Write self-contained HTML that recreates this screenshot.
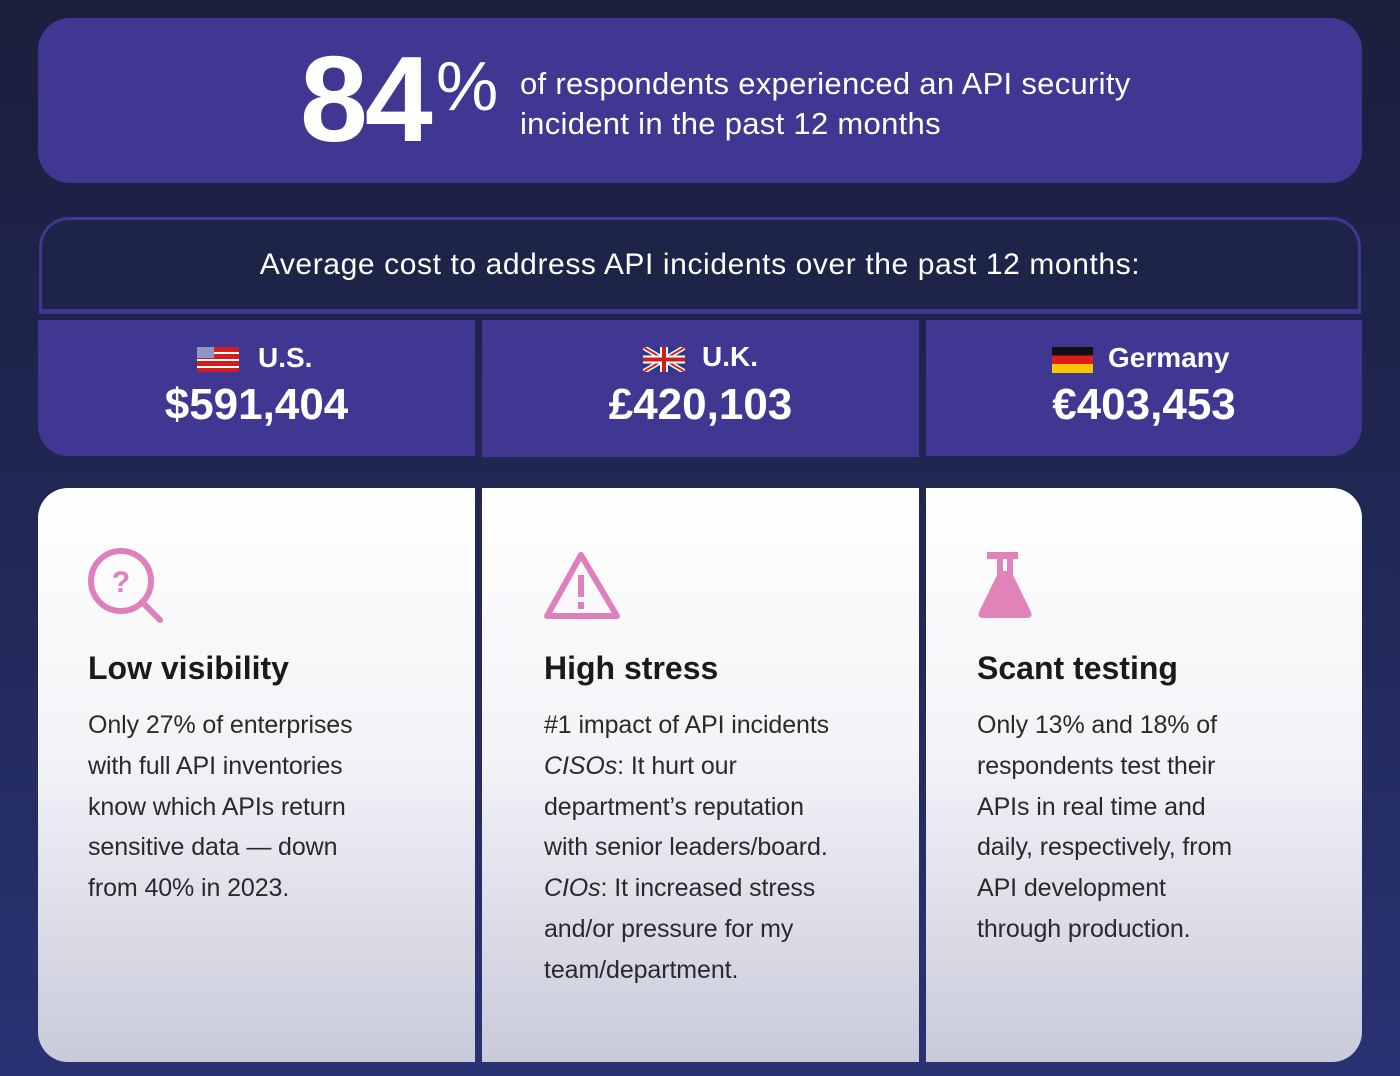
<!DOCTYPE html>
<html><head><meta charset="utf-8"><style>
*{margin:0;padding:0;box-sizing:border-box}
body{width:1400px;height:1076px;overflow:hidden;position:relative;font-family:"Liberation Sans",sans-serif;color:#fff;
background:linear-gradient(180deg,#1a1f3c 0%,#1e2650 40%,#2a3274 100%)}
.a{position:absolute}
.purple{background:#3f3791}
.t{position:absolute;white-space:nowrap}
.card{position:absolute;top:488px;height:574px;background:linear-gradient(180deg,#ffffff 0%,#f4f4f8 45%,#c9cada 100%);color:#222}
.body{position:absolute;font-size:25px;line-height:40.8px;color:#2a2a2a;letter-spacing:-0.1px}
.cn{font-size:28px;font-weight:bold}
.amt{font-size:44px;font-weight:bold;letter-spacing:0px}
</style></head><body>
<div class="a purple" style="left:38px;top:18px;width:1324px;height:165px;border-radius:32px"></div>
<div class="t" style="left:300px;top:34px;font-size:122px;font-weight:bold;letter-spacing:-3px;line-height:130px">84</div>
<div class="t" style="left:436px;top:46px;font-size:70px;line-height:80px">%</div>
<div class="t" style="left:520px;top:64px;font-size:31px;line-height:40px;letter-spacing:0.3px">of respondents experienced an API security<br>incident in the past 12 months</div>

<div class="a" style="left:39px;top:217px;width:1322px;height:97px;border:3px solid #3f3791;border-bottom:5px solid #3f3791;border-radius:30px 30px 0 0;background:#1c2448"></div>
<div class="t" style="left:0;width:1400px;text-align:center;top:247px;font-size:30px;line-height:36px;letter-spacing:0.6px">Average cost to address API incidents over the past 12 months:</div>

<div class="a purple" style="left:38px;top:320px;width:437px;height:136px;border-radius:0 0 0 30px"></div>
<div class="a purple" style="left:482px;top:320px;width:437px;height:137px"></div>
<div class="a purple" style="left:926px;top:320px;width:436px;height:136px;border-radius:0 0 30px 0"></div>

<div class="a" style="left:197px;top:347px;width:42px;height:25px;background:repeating-linear-gradient(180deg,#d21d1d 0 5px,#fff 5px 7px)"></div>
<div class="a" style="left:197px;top:347px;width:17px;height:11px;background:#8e96c8"></div>
<div class="t cn" style="left:258px;top:342px">U.S.</div>
<div class="t amt" style="left:38px;width:437px;text-align:center;top:380px">$591,404</div>
<svg class="a" style="left:643px;top:347px" width="42" height="25" viewBox="0 0 42 25"><rect width="42" height="25" fill="#2a3a8a"/><path d="M0 0L42 25M42 0L0 25" stroke="#fff" stroke-width="5"/><path d="M0 0L42 25M42 0L0 25" stroke="#d21d1d" stroke-width="2"/><path d="M21 0V25M0 12.5H42" stroke="#fff" stroke-width="8"/><path d="M21 0V25M0 12.5H42" stroke="#d21d1d" stroke-width="4"/></svg>
<div class="t cn" style="left:702px;top:341px">U.K.</div>
<div class="t amt" style="left:482px;width:437px;text-align:center;top:380px">£420,103</div>
<div class="a" style="left:1052px;top:347px;width:41px;height:26px;background:linear-gradient(180deg,#111 0 33%,#e01b1b 33% 66%,#f7c800 66%)"></div>
<div class="t cn" style="left:1108px;top:342px">Germany</div>
<div class="t amt" style="left:926px;width:436px;text-align:center;top:380px">€403,453</div>

<div class="card" style="left:38px;width:437px;border-radius:30px 0 0 30px"></div>
<div class="card" style="left:482px;width:437px"></div>
<div class="card" style="left:926px;width:436px;border-radius:0 30px 30px 0"></div>

<svg class="a" style="left:86px;top:546px" width="80" height="80" viewBox="0 0 80 80"><circle cx="35" cy="35" r="30" fill="none" stroke="#e07fbd" stroke-width="6"/><path d="M56 56L74 74" stroke="#e07fbd" stroke-width="6" stroke-linecap="round"/><text x="35" y="46" text-anchor="middle" font-family="Liberation Sans" font-weight="bold" font-size="30" fill="#e07fbd">?</text></svg>
<svg class="a" style="left:543px;top:550px" width="80" height="72" viewBox="0 0 80 72"><path d="M38 5L4 66H74Z" fill="none" stroke="#e07fbd" stroke-width="6" stroke-linejoin="round"/><rect x="35" y="25" width="6" height="22" fill="#e07fbd"/><rect x="35" y="52" width="6" height="7" fill="#e07fbd"/></svg>
<svg class="a" style="left:975px;top:550px" width="60" height="70" viewBox="0 0 60 70"><path d="M12 2H43V9H38V25L56 62Q58 68 52 68H8Q2 68 4 62L22 25V9H12Z" fill="#e083b8"/><rect x="28" y="9" width="4" height="12" fill="#fff"/></svg>

<div class="t" style="left:88px;top:650px;font-size:32px;font-weight:bold;color:#1a1a1a">Low visibility</div>
<div class="t" style="left:544px;top:650px;font-size:32px;font-weight:bold;color:#1a1a1a">High stress</div>
<div class="t" style="left:977px;top:650px;font-size:32px;font-weight:bold;color:#1a1a1a">Scant testing</div>

<div class="body" style="left:88px;top:705px">Only 27% of enterprises<br>with full API inventories<br>know which APIs return<br>sensitive data — down<br>from 40% in 2023.</div>
<div class="body" style="left:544px;top:705px">#1 impact of API incidents<br><i>CISOs</i>: It hurt our<br>department’s reputation<br>with senior leaders/board.<br><i>CIOs</i>: It increased stress<br>and/or pressure for my<br>team/department.</div>
<div class="body" style="left:977px;top:705px">Only 13% and 18% of<br>respondents test their<br>APIs in real time and<br>daily, respectively, from<br>API development<br>through production.</div>
</body></html>
